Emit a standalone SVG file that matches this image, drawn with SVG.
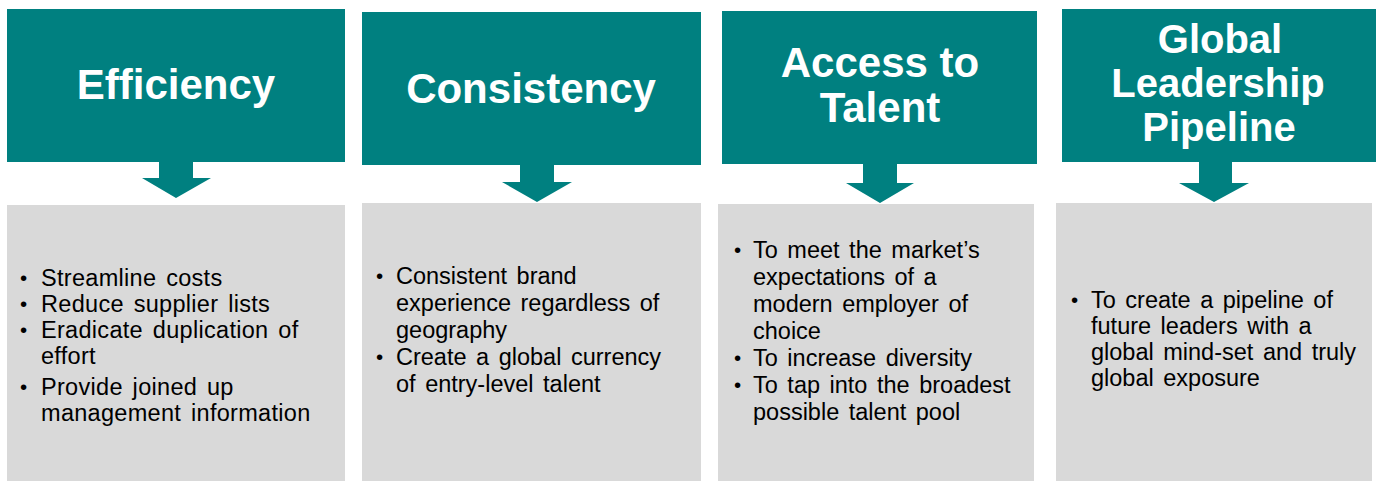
<svg xmlns="http://www.w3.org/2000/svg" width="1381" height="481" viewBox="0 0 1381 481">
  <style>
    .head { fill: #008080; }
    .body { fill: #d9d9d9; }
    .arrow { fill: #008080; }
    .title { font-family: "Liberation Sans", Arial, sans-serif; font-weight: bold; font-size: 42px; fill: #ffffff; text-anchor: middle; }
    .txt { font-family: "Liberation Sans", Arial, sans-serif; font-size: 23.5px; fill: #000000; word-spacing: 3px; }
    .wide { letter-spacing: 0.3px; }
    .dot { font-size: 20.5px; }
  </style>
  <rect width="1381" height="481" fill="#ffffff"/>

  <!-- Column 1 -->
  <g id="efficiency">
    <rect class="head" x="7" y="9" width="338" height="153"/>
    <text class="title" x="176" y="99">Efficiency</text>
  </g>
  <g id="efficiency-points">
    <rect class="body" x="7" y="205" width="338" height="276"/>
    <text class="txt wide">
      <tspan class="dot" x="20" y="285">•</tspan><tspan x="41" y="286">Streamline costs</tspan>
      <tspan class="dot" x="20" y="311">•</tspan><tspan x="41" y="312">Reduce supplier lists</tspan>
      <tspan class="dot" x="20" y="337">•</tspan><tspan x="41" y="338">Eradicate duplication of</tspan>
      <tspan x="41" y="364">effort</tspan>
      <tspan class="dot" x="20" y="394">•</tspan><tspan x="41" y="395">Provide joined up</tspan>
      <tspan x="41" y="421">management information</tspan>
    </text>
  </g>

  <!-- Column 2 -->
  <g id="consistency">
    <rect class="head" x="362" y="12" width="339" height="153"/>
    <text class="title" x="531" y="103">Consistency</text>
  </g>
  <g id="consistency-points">
    <rect class="body" x="362" y="203" width="339" height="278"/>
    <text class="txt">
      <tspan class="dot" x="376" y="283">•</tspan><tspan x="396" y="284">Consistent brand</tspan>
      <tspan x="396" y="311">experience regardless of</tspan>
      <tspan x="396" y="338">geography</tspan>
      <tspan class="dot" x="376" y="364">•</tspan><tspan x="396" y="365">Create a global currency</tspan>
      <tspan x="396" y="392">of entry-level talent</tspan>
    </text>
  </g>

  <!-- Column 3 -->
  <g id="access-to-talent">
    <rect class="head" x="722" y="11" width="315" height="153"/>
    <text class="title" x="880" y="77">Access to</text>
    <text class="title" x="880" y="122">Talent</text>
  </g>
  <g id="access-to-talent-points">
    <rect class="body" x="718" y="204" width="316" height="277"/>
    <text class="txt">
      <tspan class="dot" x="734" y="257">•</tspan><tspan x="753" y="258">To meet the market’s</tspan>
      <tspan x="753" y="285">expectations of a</tspan>
      <tspan x="753" y="312">modern employer of</tspan>
      <tspan x="753" y="339">choice</tspan>
      <tspan class="dot" x="734" y="365">•</tspan><tspan x="753" y="366">To increase diversity</tspan>
      <tspan class="dot" x="734" y="392">•</tspan><tspan x="753" y="393">To tap into the broadest</tspan>
      <tspan x="753" y="420">possible talent pool</tspan>
    </text>
  </g>

  <!-- Column 4 -->
  <g id="global-leadership-pipeline">
    <rect class="head" x="1062" y="9" width="314" height="153"/>
    <text class="title" x="1220" y="53" style="font-size:40px">Global</text>
    <text class="title" x="1218" y="97" style="font-size:40px">Leadership</text>
    <text class="title" x="1219" y="141" style="font-size:40px">Pipeline</text>
  </g>
  <g id="global-leadership-pipeline-points">
    <rect class="body" x="1056" y="203" width="316" height="278"/>
    <text class="txt">
      <tspan class="dot" x="1071" y="307">•</tspan><tspan x="1091" y="308">To create a pipeline of</tspan>
      <tspan x="1091" y="334">future leaders with a</tspan>
      <tspan x="1091" y="360">global mind-set and truly</tspan>
      <tspan x="1091" y="386">global exposure</tspan>
    </text>
  </g>

  <!-- Block arrows from each heading to its list -->
  <g id="connectors">
    <polygon class="arrow" points="159,162 193,162 193,178 211,178 176,198 142,178 159,178"/>
    <polygon class="arrow" points="520,165 554,165 554,182 572,182 537,202 502,182 520,182"/>
    <polygon class="arrow" points="863,164 897,164 897,183 914,183 880,203 846,183 863,183"/>
    <polygon class="arrow" points="1199,162 1232,162 1232,183 1249,183 1214,202 1179,183 1199,183"/>
  </g>
</svg>
